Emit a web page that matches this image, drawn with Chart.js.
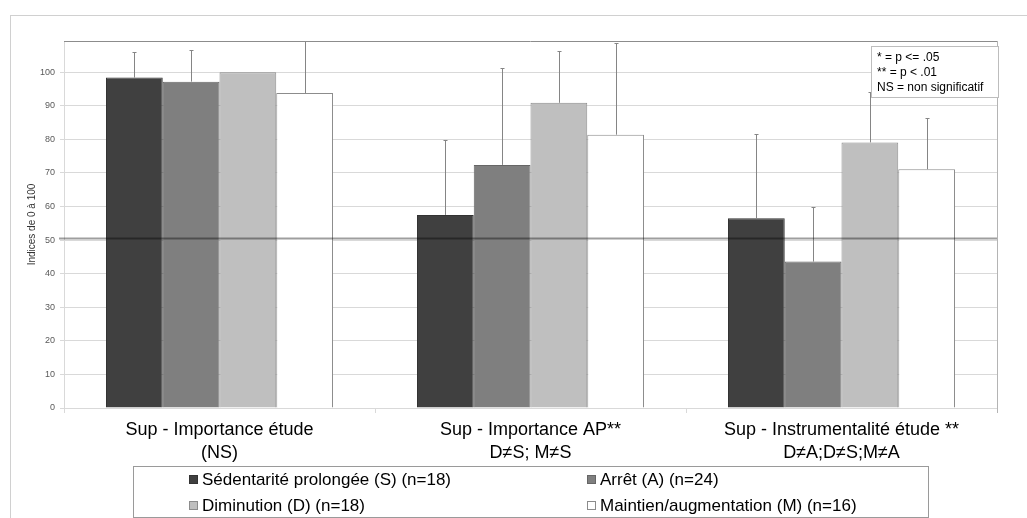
<!DOCTYPE html>
<html>
<head>
<meta charset="utf-8">
<script src="https://cdn.jsdelivr.net/npm/chart.js@4/dist/chart.umd.min.js"></script>
<style>
html,body{margin:0;padding:0;background:#fff;}
canvas{display:block;}
</style>
</head>
<body>
<canvas id="c" width="1027" height="518"></canvas>
<script>
const categories = [
  ["Sup - Importance étude", "(NS)"],
  ["Sup - Importance AP**", "D≠S; M≠S"],
  ["Sup - Instrumentalité étude **", "D≠A;D≠S;M≠A"]
];
const seriesNames = [
  "Sédentarité prolongée (S) (n=18)",
  "Arrêt (A) (n=24)",
  "Diminution (D) (n=18)",
  "Maintien/augmentation (M) (n=16)"
];
const sedentarite = [98.4, 57.5, 56.5];
const arret = [97.2, 72.4, 43.6];
const diminution = [100, 90.9, 79.1];
const maintien = [93.8, 81.4, 71.1];
const sedentariteSD = [7.7, 22.4, 25.1];
const arretSD = [9.4, 28.9, 16.2];
const diminutionSD = [0, 15.4, 14.9];
const maintienSD = [20, 27.2, 15.2];
const yTicks = [0, 10, 20, 30, 40, 50, 60, 70, 80, 90, 100];
const yMax = 109.3;
const refLine = 50.5;
const yTitle = "Indices de 0 à 100";
const noteLines = ["* = p <= .05", "** = p < .01", "NS = non significatif"];

const errors = [sedentariteSD, arretSD, diminutionSD, maintienSD];
const FONT = "'Liberation Sans', Arial, sans-serif";

const framePlugin = {
  id: 'frame',
  beforeDraw(chart) {
    const ctx = chart.ctx;
    ctx.save();
    ctx.strokeStyle = '#d0d0d0';
    ctx.lineWidth = 1;
    ctx.strokeRect(10.5, 15.5, 1200, 700);
    ctx.restore();
  }
};

const errorPlugin = {
  id: 'errbars',
  afterDatasetsDraw(chart) {
    const ctx = chart.ctx;
    const ys = chart.scales.y;
    const a = chart.chartArea;
    ctx.save();
    ctx.beginPath();
    ctx.rect(a.left, a.top, a.right - a.left, a.bottom - a.top);
    ctx.clip();
    ctx.strokeStyle = '#858585';
    ctx.lineWidth = 1;
    chart.data.datasets.forEach((ds, i) => {
      const meta = chart.getDatasetMeta(i);
      meta.data.forEach((el, j) => {
        const sd = errors[i][j];
        if (!sd) return;
        const x = Math.round(el.x) + 0.5;
        const yTop = Math.round(ys.getPixelForValue(ds.data[j] + sd)) + 0.5;
        ctx.beginPath();
        ctx.moveTo(x, el.y);
        ctx.lineTo(x, yTop);
        ctx.moveTo(x - 2, yTop);
        ctx.lineTo(x + 2, yTop);
        ctx.stroke();
      });
    });
    ctx.restore();
    // reference line at ~50
    ctx.save();
    const y50 = ys.getPixelForValue(refLine);
    ctx.strokeStyle = 'rgba(0,0,0,0.38)';
    ctx.lineWidth = 2;
    ctx.beginPath();
    ctx.moveTo(a.left - 5, y50);
    ctx.lineTo(a.right, y50);
    ctx.stroke();
    ctx.restore();
    // plot border top and right
    ctx.save();
    ctx.lineWidth = 1;
    ctx.strokeStyle = '#8c8c8c';
    ctx.beginPath();
    ctx.moveTo(a.left, Math.round(a.top) + 0.5);
    ctx.lineTo(a.right, Math.round(a.top) + 0.5);
    ctx.stroke();
    ctx.strokeStyle = '#b4b4b4';
    ctx.beginPath();
    ctx.moveTo(Math.round(a.right) + 0.5, a.top);
    ctx.lineTo(Math.round(a.right) + 0.5, a.bottom + 5);
    ctx.stroke();
    ctx.restore();
  }
};

const legendNotePlugin = {
  id: 'legendNote',
  afterDraw(chart) {
    const ctx = chart.ctx;
    ctx.save();
    // legend box
    ctx.strokeStyle = '#9a9a9a';
    ctx.lineWidth = 1;
    ctx.strokeRect(133.5, 466.5, 795, 51);
    const cols = [189, 587];
    const rows = [480, 506];
    ctx.font = "17px " + FONT;
    ctx.textBaseline = 'middle';
    chart.data.datasets.forEach((ds, i) => {
      const cx = cols[i % 2];
      const cy = rows[Math.floor(i / 2)];
      ctx.fillStyle = ds.backgroundColor;
      ctx.fillRect(cx, cy - 5, 9, 9);
      ctx.strokeStyle = ds.borderColor;
      ctx.strokeRect(cx + 0.5, cy - 4.5, 8, 8);
      ctx.fillStyle = '#000';
      ctx.fillText(ds.label, cx + 13, cy);
    });
    // note box
    ctx.fillStyle = '#fff';
    ctx.fillRect(871, 46, 127, 51);
    ctx.strokeStyle = '#bdbdbd';
    ctx.strokeRect(871.5, 46.5, 127, 51);
    ctx.fillStyle = '#000';
    ctx.font = "12px " + FONT;
    noteLines.forEach((t, k) => ctx.fillText(t, 877, 58 + k * 15));
    ctx.restore();
  }
};

const colors = ['#404040', '#7f7f7f', '#bfbfbf', '#ffffff'];
const borders = ['#333333', '#666666', '#8c8c8c', '#8c8c8c'];
const values = [sedentarite, arret, diminution, maintien];

new Chart(document.getElementById('c'), {
  type: 'bar',
  data: {
    labels: categories,
    datasets: values.map((v, i) => ({
      label: seriesNames[i],
      data: v,
      backgroundColor: colors[i],
      borderColor: borders[i],
      borderWidth: 1,
      categoryPercentage: 0.73,
      barPercentage: 1.0
    }))
  },
  options: {
    responsive: false,
    animation: false,
    layout: { padding: { left: 0, top: 41, right: 30, bottom: 0 } },
    plugins: { legend: { display: false }, tooltip: { enabled: false } },
    scales: {
      x: {
        grid: { drawOnChartArea: false, drawTicks: true, tickLength: 5, color: '#d9d9d9' },
        border: { color: '#d9d9d9' },
        ticks: {
          autoSkip: false, maxRotation: 0, padding: 6,
          color: '#000',
          font: { family: FONT, size: 18, lineHeight: 1.25 }
        },
        afterFit(scale) { scale.height = 110; }
      },
      y: {
        min: 0, max: yMax,
        afterBuildTicks(scale) { scale.ticks = yTicks.map(v => ({ value: v })); },
        grid: { color: '#d9d9d9', tickLength: 4 },
        border: { color: '#d9d9d9' },
        ticks: { padding: 5, color: '#595959', font: { family: FONT, size: 9 } },
        title: {
          display: true, text: yTitle, color: '#333',
          font: { family: FONT, size: 10 },
          padding: { top: 26, bottom: 0 }
        },
        afterFit(scale) { scale.width = 64; }
      }
    }
  },
  plugins: [framePlugin, errorPlugin, legendNotePlugin]
});
</script>
</body>
</html>
